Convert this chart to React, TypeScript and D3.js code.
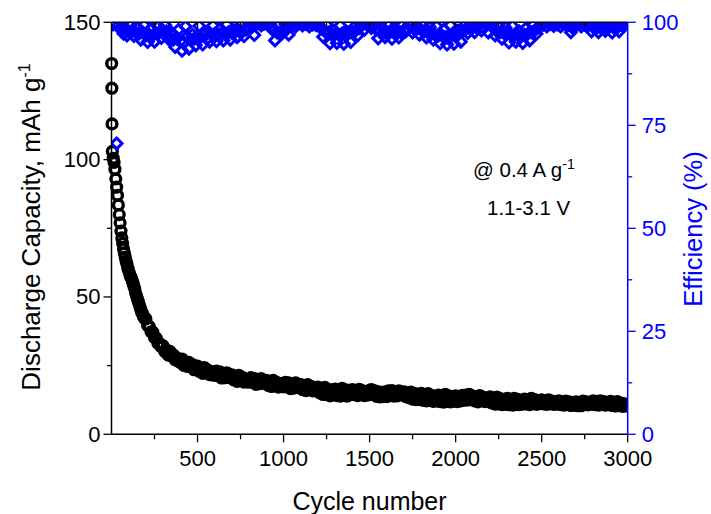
import React from 'react';
import * as d3 from 'd3';

const W = 711;
const H = 514;
const PL = 111.5, PR = 627.7, PT = 22.3, PB = 434.3;
const FONT = '"Liberation Sans", Arial, Helvetica, sans-serif';
const BLUE = '#0000ff';

// Discharge capacity (mAh g-1): early cycles listed individually
const capEarlyCycles = [1, 2, 3, 5, 10, 15, 20, 25, 30, 35, 40, 45, 50, 55, 60, 65, 70, 75, 80, 85, 90, 95, 100, 105, 110, 115, 120, 125, 130, 135, 140, 145, 150, 155, 160, 165, 170, 175, 180, 185, 190, 195];
const capEarlyValues = [135, 126, 113, 103, 100.5, 99, 96.5, 93, 90, 87, 83.5, 80, 77, 74, 71.5, 69.5, 67.5, 66, 64.5, 63, 62, 60.5, 59.5, 58.5, 57.5, 57, 56, 55, 54, 53, 51.5, 50.5, 49.5, 48.5, 47.5, 46.5, 45.5, 44.5, 44, 43, 42.5, 42];

// Discharge capacity from cycle 200 onwards, every 10 cycles
const capStartCycle = 200;
const capCycleStep = 10;
const capValues = [
  42.0, 39.6, 39.2, 37.3, 37.2, 35.2, 35.0, 33.1, 33.0, 31.8,
  32.2, 30.1, 30.7, 28.8, 30.2, 28.5, 28.9, 27.1, 27.8, 26.6,
  26.2, 27.4, 25.1, 26.3, 24.7, 26.2, 24.7, 25.4, 23.5, 24.7,
  24.8, 22.9, 23.9, 22.2, 24.3, 22.6, 23.4, 21.7, 22.7, 21.6,
  21.5, 23.0, 21.4, 22.7, 20.5, 21.9, 20.6, 22.4, 20.8, 21.5,
  21.6, 19.8, 20.9, 19.3, 21.5, 19.9, 20.7, 19.0, 20.1, 19.1,
  19.0, 20.6, 19.0, 20.3, 18.2, 19.7, 18.4, 20.3, 18.7, 19.5,
  19.6, 17.8, 18.9, 17.4, 19.6, 18.0, 18.9, 17.2, 18.4, 17.4,
  17.3, 18.9, 17.4, 18.7, 16.6, 18.1, 16.8, 18.7, 17.1, 18.0,
  18.1, 16.3, 17.5, 15.9, 18.1, 16.6, 17.5, 15.8, 16.9, 16.0,
  17.2, 15.1, 16.6, 14.5, 17.1, 14.5, 16.4, 14.0, 16.1, 14.5,
  16.5, 14.1, 16.0, 13.9, 16.7, 14.2, 16.2, 13.9, 16.0, 14.5,
  16.3, 14.5, 15.7, 14.1, 16.4, 14.8, 15.8, 14.1, 15.3, 14.3,
  16.0, 16.3, 14.6, 15.8, 13.8, 15.5, 13.6, 15.3, 13.7, 15.5,
  13.7, 15.8, 14.4, 15.9, 13.9, 15.2, 14.0, 15.8, 14.4, 15.3,
  15.5, 13.7, 14.8, 13.3, 15.4, 12.8, 14.9, 12.6, 14.3, 12.7,
  14.9, 12.4, 14.3, 12.2, 14.8, 12.3, 14.2, 12.0, 13.7, 12.2,
  14.3, 11.9, 13.8, 11.7, 14.5, 12.1, 14.0, 11.8, 13.6, 12.1,
  14.0, 11.9, 13.6, 12.2, 14.2, 12.4, 14.3, 12.5, 14.5, 14.0,
  13.9, 12.2, 13.3, 11.8, 14.1, 12.5, 13.5, 11.9, 13.0, 12.1,
  13.6, 11.4, 13.0, 11.0, 13.5, 11.1, 13.0, 10.8, 12.5, 10.9,
  13.1, 10.8, 12.6, 10.6, 13.1, 10.8, 12.7, 10.8, 12.3, 11.0,
  12.8, 11.1, 12.3, 10.8, 13.1, 11.6, 12.6, 10.9, 12.1, 11.2,
  12.5, 11.1, 12.0, 10.9, 12.5, 11.2, 12.1, 10.9, 11.7, 11.0,
  12.2, 10.8, 11.7, 10.6, 12.1, 10.9, 11.8, 10.5, 11.4, 10.6,
  11.8, 10.4, 11.5, 10.4, 12.1, 10.9, 11.8, 10.7, 11.6, 11.0,
  12.2, 10.8, 11.8, 10.6, 12.2, 11.0, 11.9, 10.6, 11.5, 10.8,
  12.0, 10.5, 11.6, 10.3, 11.9, 10.6, 11.4, 10.2, 11.1, 10.3,
  10.8,
];

// Coulombic efficiency (%), odd readings: every 20 cycles starting at cycle 10
const effStartA = 10;
const effStepA = 20;
const effValuesA = [
  99.5, 70.6, 98.5, 97.2, 96.8,
  99.2, 96.7, 98.8, 95.8, 99.3,
  95.2, 98.5, 95.3, 99.0, 96.2,
  99.4, 96.0, 97.5, 94.0, 98.2,
  93.1, 99.0, 93.6, 97.0, 94.4,
  99.1, 94.6, 97.4, 95.3, 99.2,
  95.4, 98.3, 95.6, 99.5, 95.8,
  98.0, 96.4, 99.3, 96.6, 98.6,
  99.6, 96.9, 99.8, 99.2, 99.7,
  99.3, 99.0, 95.6, 99.4, 97.2,
  99.6, 97.0, 99.3, 99.0, 99.8,
  99.2, 99.6, 99.0, 99.5, 99.3,
  98.9, 96.5, 99.4, 94.9, 98.0,
  95.0, 99.2, 94.8, 97.6, 95.2,
  98.8, 96.8, 99.3, 98.2, 99.5,
  98.6, 99.4, 96.1, 98.9, 96.4,
  99.2, 96.0, 98.5, 96.3, 99.3,
  97.8, 99.5, 97.5, 99.1, 97.0,
  99.2, 96.3, 98.8, 95.8, 99.0,
  94.9, 98.2, 94.6, 99.3, 94.8,
  97.9, 95.3, 99.2, 97.4, 99.0,
  97.6, 99.4, 98.0, 99.6, 97.5,
  99.2, 96.8, 99.0, 96.0, 98.7,
  95.1, 99.1, 95.3, 97.8, 95.0,
  98.6, 95.6, 99.3, 97.2, 99.0,
  99.4, 99.0, 99.6, 99.1, 99.5,
  99.0, 99.7, 99.2, 97.6, 99.1,
  99.6, 99.0, 99.4, 99.2, 97.8,
  99.3, 97.6, 99.5, 97.9, 99.0,
  97.5, 99.4, 97.8, 99.2, 99.6,
];

// Coulombic efficiency (%), even readings: every 20 cycles starting at cycle 20
const effStartB = 20;
const effStepB = 20;
const effValuesB = [
  99.8, 99.3, 98.0, 98.4, 97.8,
  98.0, 97.5, 97.3, 97.6, 96.8,
  97.0, 96.8, 97.4, 97.6, 98.0,
  97.8, 96.0, 95.8, 96.0, 95.4,
  95.2, 96.6, 95.8, 96.0, 96.8,
  96.5, 96.8, 96.2, 97.0, 97.2,
  97.0, 97.4, 97.1, 97.6, 97.4,
  97.8, 98.0, 97.8, 98.2, 98.5,
  99.0, 99.8, 100.2, 99.6, 100.0,
  99.7, 98.0, 97.6, 97.5, 98.0,
  98.4, 99.8, 100.1, 99.7, 100.0,
  99.8, 100.2, 99.7, 100.0, 99.8,
  98.5, 97.8, 97.5, 97.0, 97.2,
  97.0, 97.3, 96.8, 97.4, 97.6,
  98.0, 98.6, 99.8, 99.6, 100.0,
  99.4, 98.2, 97.8, 97.4, 97.6,
  97.8, 97.5, 97.8, 97.6, 98.0,
  98.4, 99.0, 98.4, 98.6, 98.2,
  97.8, 97.6, 97.2, 97.0, 96.8,
  96.8, 96.4, 96.6, 96.8, 97.0,
  97.2, 97.8, 98.4, 98.6, 99.4,
  98.8, 99.6, 98.9, 99.8, 99.4,
  98.6, 97.8, 97.6, 97.4, 97.2,
  97.0, 96.8, 97.0, 96.6, 97.0,
  97.2, 97.6, 98.0, 98.8, 99.8,
  100.0, 99.8, 100.2, 99.7, 100.1,
  99.8, 100.2, 99.4, 98.6, 99.5,
  100.0, 99.7, 100.2, 99.8, 98.8,
  98.6, 98.8, 98.5, 98.7, 99.2,
  98.6, 98.8, 99.5, 100.0, 99.8,
];

const xMajorTicks = [500, 1000, 1500, 2000, 2500, 3000];
const xMinorTicks = [250, 750, 1250, 1750, 2250, 2750];
const yLeftMajor = [0, 50, 100, 150];
const yLeftMinor = [25, 75, 125];
const yRightMajor = [0, 25, 50, 75, 100];
const yRightMinor = [12.5, 37.5, 62.5, 87.5];

export default function App() {
  const x = d3.scaleLinear().domain([0, 3000]).range([PL, PR]);
  const yL = d3.scaleLinear().domain([0, 150]).range([PB, PT]);
  const yR = d3.scaleLinear().domain([0, 100]).range([PB, PT]);

  const capPts: [number, number][] = [
    ...capEarlyCycles.map((c, i) => [c, capEarlyValues[i]] as [number, number]),
    ...capValues.map((v, i) => [capStartCycle + i * capCycleStep, v] as [number, number]),
  ];
  const effPts: [number, number][] = [
    ...effValuesA.map((v, i) => [effStartA + i * effStepA, v] as [number, number]),
    ...effValuesB.map((v, i) => [effStartB + i * effStepB, v] as [number, number]),
  ];

  const ds = 5.4;
  const diamondPath = `M0,${-ds}L${ds},0L0,${ds}L${-ds},0Z`;

  const tickFs = 22;
  const titleFs = 25;

  return (
    <svg width={W} height={H} style={{ position: 'absolute', left: 0, top: 0, background: '#fff' }} fontFamily={FONT}>
      <defs>
        <clipPath id="effClip">
          <rect x={PL} y={PT} width={PR - PL} height={PB - PT} />
        </clipPath>
        <clipPath id="capClip">
          <rect x={PL - 8} y={PT} width={PR - PL + 8} height={PB - PT} />
        </clipPath>
      </defs>

      {/* capacity circles */}
      <g clipPath="url(#capClip)">
        {capPts.map(([c, v], i) => (
          <circle key={i} cx={x(c)} cy={yL(v)} r={4.9} fill="none" stroke="#000" strokeWidth={3.4} />
        ))}
      </g>

      {/* efficiency diamonds */}
      <g clipPath="url(#effClip)">
        {effPts.map(([c, v], i) => (
          <path key={i} d={diamondPath} transform={`translate(${x(c)},${yR(v)})`} fill="none" stroke={BLUE} strokeWidth={3} />
        ))}
      </g>

      {/* axes lines */}
      <line x1={PL} x2={PR} y1={PB} y2={PB} stroke="#000" strokeWidth={1.5} />
      <line x1={PL} x2={PR} y1={PT} y2={PT} stroke="#000" strokeWidth={1.5} />
      <line x1={PL} x2={PL} y1={PT} y2={PB} stroke="#000" strokeWidth={1.5} />
      <line x1={PR} x2={PR} y1={PT} y2={PB} stroke={BLUE} strokeWidth={1.5} />

      {/* bottom ticks */}
      {xMajorTicks.map((t) => (
        <g key={'xb' + t}>
          <line x1={x(t)} x2={x(t)} y1={PB} y2={PB + 8} stroke="#000" strokeWidth={1.3} />
          <text x={x(t)} y={PB + 32} fontSize={tickFs} textAnchor="middle" fill="#000">{t}</text>
        </g>
      ))}
      {xMinorTicks.map((t) => (
        <line key={'xbm' + t} x1={x(t)} x2={x(t)} y1={PB} y2={PB + 5} stroke="#000" strokeWidth={1.3} />
      ))}
      {/* top ticks (inward) */}
      {[...xMajorTicks.slice(0, -1), ...xMinorTicks].map((t) => (
        <line key={'xt' + t} x1={x(t)} x2={x(t)} y1={PT} y2={PT + 6} stroke="#000" strokeWidth={1.3} />
      ))}

      {/* left ticks */}
      {yLeftMajor.map((t) => (
        <g key={'yl' + t}>
          <line x1={PL - 8} x2={PL} y1={yL(t)} y2={yL(t)} stroke="#000" strokeWidth={1.3} />
          <text x={PL - 11} y={yL(t) + 7.5} fontSize={tickFs} textAnchor="end" fill="#000">{t}</text>
        </g>
      ))}
      {yLeftMinor.map((t) => (
        <line key={'ylm' + t} x1={PL - 4.5} x2={PL} y1={yL(t)} y2={yL(t)} stroke="#000" strokeWidth={1.3} />
      ))}

      {/* right ticks */}
      {yRightMajor.map((t) => (
        <g key={'yr' + t}>
          <line x1={PR} x2={PR + 8} y1={yR(t)} y2={yR(t)} stroke={BLUE} strokeWidth={1.3} />
          <text x={PR + 14} y={yR(t) + 7.5} fontSize={tickFs} textAnchor="start" fill={BLUE}>{t}</text>
        </g>
      ))}
      {yRightMinor.map((t) => (
        <line key={'yrm' + t} x1={PR} x2={PR + 4.5} y1={yR(t)} y2={yR(t)} stroke={BLUE} strokeWidth={1.3} />
      ))}

      {/* axis titles */}
      <text x={369.5} y={510} fontSize={titleFs} textAnchor="middle" fill="#000">Cycle number</text>
      <text transform={`translate(40,227) rotate(-90)`} fontSize={26} textAnchor="middle" fill="#000">
        Discharge Capacity, mAh g<tspan dy={-10} fontSize={16}>-1</tspan>
      </text>
      <text transform={`translate(702,229) rotate(-90)`} fontSize={25.5} textAnchor="middle" fill={BLUE}>
        Efficiency (%)
      </text>

      {/* annotations */}
      <text x={473} y={177} fontSize={20.5} fill="#000">
        @ 0.4 A g<tspan dy={-8} fontSize={14}>-1</tspan>
      </text>
      <text x={487} y={215} fontSize={20.5} fill="#000">1.1-3.1 V</text>
    </svg>
  );
}
